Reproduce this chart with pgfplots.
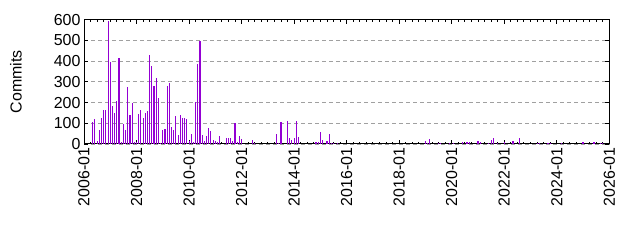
\documentclass[border=0pt]{standalone}
\usepackage{fontspec}
\setmainfont{Liberation Sans}
\usepackage{pgfplots}
\usepackage{pgfplotstable}
\pgfplotsset{compat=1.18}
\definecolor{barc}{RGB}{148,0,211}
\definecolor{gridc}{RGB}{160,160,160}
\pgfplotstableread{
m c
4 106
5 121
6 13
7 68
8 126
9 165
10 165
11 594
12 397
13 184
14 150
15 208
16 416
17 10
18 97
19 68
20 276
21 140
22 200
23 10
24 8
25 145
26 165
27 126
28 150
29 160
30 431
31 377
32 281
33 319
34 223
35 5
36 68
37 73
38 281
39 295
40 82
41 68
42 135
43 44
44 140
45 126
46 126
47 121
48 15
49 48
50 10
51 203
52 387
53 498
54 44
55 15
56 39
57 77
58 63
59 19
60 15
61 10
62 39
65 29
66 29
67 29
68 15
69 102
70 10
71 39
72 24
77 19
78 5
88 48
89 5
90 106
93 111
94 29
95 19
96 29
97 111
98 34
106 10
107 10
108 58
109 19
111 15
112 48
113 5
114 5
116 5
156 15
157 5
158 24
162 5
163 5
167 5
169 5
173 10
175 10
176 10
180 15
181 10
185 5
186 19
187 29
189 5
192 10
196 15
199 29
207 5
208 5
212 5
213 5
218 5
228 10
233 10
236 5
237 5
}\commits
\begin{document}
\begin{tikzpicture}
\useasboundingbox (0,0) rectangle (640bp,240bp);
\begin{axis}[
 at={(84bp,96bp)}, anchor=south west,
 scale only axis, width=525.3bp, height=124.3bp,
 xmin=0, xmax=240, ymin=0, ymax=600,
 xtick={0,24,...,240},
 xticklabels={2006-01,2008-01,2010-01,2012-01,2014-01,2016-01,2018-01,2020-01,2022-01,2024-01,2026-01},
 minor x tick num=7,
 ytick={0,100,...,600},
 ymajorgrids,
 major grid style={gridc, dash pattern=on 4bp off 3bp, line width=1.1bp},
 tick align=inside,
 major tick length=4bp, minor tick length=2bp,
 tick style={black, line width=0.9bp},
 axis line style={line width=1bp},
 xticklabel style={rotate=90, anchor=east, font=\fontsize{16}{16}\selectfont},
 yticklabel style={font=\fontsize{16}{16}\selectfont},
 /pgf/number format/assume math mode=true,
 ylabel={Commits},
 every axis y label/.style={at={(axis description cs:-0.1294,0.5)}, rotate=90, anchor=center, font=\fontsize{16}{16}\selectfont},
]
\addplot[ycomb, no markers, barc, line width=1.1bp] table[x=m, y=c] {\commits};
\end{axis}
\end{tikzpicture}
\end{document}
